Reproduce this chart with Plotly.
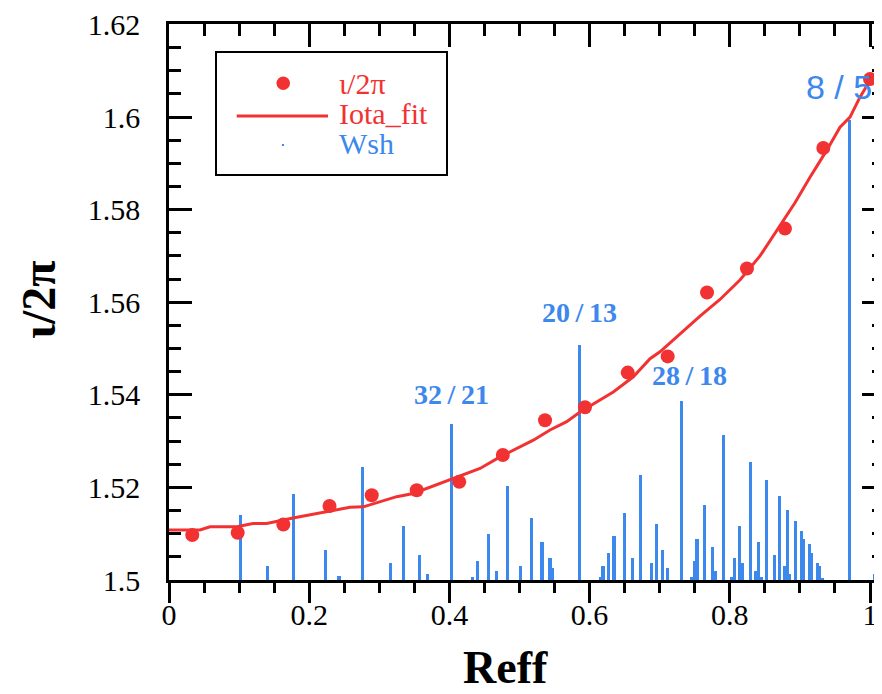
import plotly.graph_objects as go

# ---- data ----
iota_x = [0.0332, 0.0980, 0.1631, 0.2290, 0.2892, 0.3534, 0.4141, 0.4762, 0.5364,
          0.5934, 0.6544, 0.7114, 0.7675, 0.8245, 0.8787, 0.9334, 1.0000]
iota_y = [1.5097, 1.5102, 1.5120, 1.5160, 1.5183, 1.5194, 1.5212, 1.5270, 1.5345,
          1.5373, 1.5448, 1.5483, 1.5621, 1.5673, 1.5759, 1.5933, 1.6082]

fit_x = [0.0, 0.0442, 0.0585, 0.0966, 0.1198, 0.1394, 0.1769, 0.2154, 0.2582, 0.2772,
         0.3010, 0.3248, 0.3485, 0.3676, 0.3913, 0.4198, 0.4437, 0.4722, 0.5007, 0.5197,
         0.5435, 0.5673, 0.5863, 0.6148, 0.6338, 0.6624, 0.6862, 0.7004, 0.7290, 0.7575,
         0.7860, 0.8145, 0.8431, 0.8716, 0.8930, 0.9144, 0.9382, 0.9572, 0.9715, 0.9857,
         1.0000]
fit_y = [1.5108, 1.5108, 1.5115, 1.5115, 1.5122, 1.5122, 1.5134, 1.5145, 1.5157, 1.5158,
         1.5169, 1.5180, 1.5187, 1.5198, 1.5210, 1.5227, 1.5241, 1.5266, 1.5288, 1.5302,
         1.5324, 1.5342, 1.5363, 1.5388, 1.5406, 1.5439, 1.5478, 1.5493, 1.5532, 1.5570,
         1.5606, 1.5648, 1.5700, 1.5767, 1.5815, 1.5870, 1.5928, 1.5978, 1.6000, 1.6043,
         1.6079]

wsh_x = [0.1017, 0.1403, 0.1779, 0.2235, 0.2425, 0.2767, 0.3153, 0.3343, 0.3571, 0.3685,
         0.4028, 0.4327, 0.4403, 0.4560, 0.4675, 0.4826, 0.5017, 0.5169, 0.5321, 0.5435,
         0.5473, 0.5853, 0.6153, 0.6191, 0.6267, 0.6348, 0.6500, 0.6615, 0.6729, 0.6876,
         0.6952, 0.7033, 0.7108, 0.7304, 0.7456, 0.7494, 0.7532, 0.7646, 0.7760, 0.7799,
         0.7913, 0.8027, 0.8064, 0.8141, 0.8179, 0.8293, 0.8370, 0.8407, 0.8445, 0.8521,
         0.8635, 0.8712, 0.8787, 0.8826, 0.8849, 0.8940, 0.9016, 0.9054, 0.9130, 0.9168,
         0.9244, 0.9282, 0.9320, 0.9705, 1.0067, 1.0096]
wsh_y = [1.5140, 1.5031, 1.5186, 1.5065, 1.5009, 1.5244, 1.5036, 1.5116, 1.5054, 1.5013,
         1.5336, 1.5007, 1.5042, 1.5099, 1.5019, 1.5203, 1.5030, 1.5134, 1.5082, 1.5047,
         1.5025, 1.5508, 1.5007, 1.5030, 1.5059, 1.5094, 1.5145, 1.5047, 1.5227, 1.5036,
         1.5122, 1.5065, 1.5025, 1.5387, 1.5007, 1.5042, 1.5088, 1.5163, 1.5071, 1.5019,
         1.5313, 1.5007, 1.5047, 1.5116, 1.5036, 1.5255, 1.5019, 1.5082, 1.5007, 1.5216,
         1.5053, 1.5181, 1.5030, 1.5151, 1.5013, 1.5128, 1.5105, 1.5088, 1.5077, 1.5059,
         1.5036, 1.5030, 1.5004, 1.5994, 1.5013, 1.5009]
wsh_base = 1.5

res_labels = ["8 / 5", "20\u2009/\u200913", "32\u2009/\u200921", "28\u2009/\u200918"]
res_x = [0.956, 0.5853, 0.4037, 0.743]
res_y = [1.6064, 1.5578, 1.5401, 1.5442]

RED = "#f23232"
BLUE = "#3c88ec"
SERIF = "Liberation Serif"

fig = go.Figure()
fig.add_trace(go.Bar(x=wsh_x, y=[v - wsh_base for v in wsh_y], base=wsh_base,
                     width=0.0043, marker=dict(color=BLUE, line=dict(width=0)),
                     name="Wsh", showlegend=False))
fig.add_trace(go.Scatter(x=fit_x, y=fit_y, mode="lines", line=dict(color=RED, width=3),
                         name="Iota_fit", showlegend=False))
fig.add_trace(go.Scatter(x=iota_x, y=iota_y, mode="markers",
                         marker=dict(color=RED, size=14), name="\u03b9/2\u03c0",
                         showlegend=False, cliponaxis=False))
# dummy trace to activate mirror axes
fig.add_trace(go.Scatter(x=[], y=[], xaxis="x2", yaxis="y2", showlegend=False))

# screen pixels of plot area (page body has an 8px margin)
BODY = 8
x0, x1 = 169, 882
y0, y1 = 24, 580
ppu = 701.0
xmax = (x1 - x0) / ppu
LW = 2.5

fig.update_layout(
    width=882 - BODY, height=694 - BODY,
    margin=dict(l=x0 - BODY, r=0, t=y0 - BODY, b=694 - y1),
    plot_bgcolor="white", paper_bgcolor="white",
    bargap=0,
    xaxis=dict(range=[0, xmax], showgrid=False, zeroline=False, showline=True,
               linecolor="black", linewidth=LW, ticks="outside", ticklen=20,
               tickwidth=LW, tickcolor="black", tick0=0, dtick=0.2,
               minor=dict(ticks="outside", ticklen=10, tickwidth=LW, dtick=0.05,
                          tickcolor="black", showgrid=False),
               ticklabelstandoff=-14, ticklabeloverflow="allow",
               tickfont=dict(family=SERIF, size=30, color="black")),
    xaxis2=dict(range=[0, xmax], overlaying="x", side="top", showgrid=False,
                zeroline=False, showline=True, linecolor="black", linewidth=LW,
                ticks="inside", ticklen=23, tickwidth=LW, tickcolor="black",
                tick0=0, dtick=0.2, showticklabels=False,
                minor=dict(ticks="inside", ticklen=12, tickwidth=LW, dtick=0.05,
                           tickcolor="black", showgrid=False)),
    yaxis=dict(range=[1.5, 1.6201], showgrid=False, zeroline=False, showline=True,
               linecolor="black", linewidth=LW, ticks="inside", ticklen=23,
               tickwidth=LW, tickcolor="black", tick0=1.5, dtick=0.02,
               minor=dict(ticks="inside", ticklen=12, tickwidth=LW, dtick=0.005,
                          tickcolor="black", showgrid=False),
               ticklabelstandoff=20, ticklabeloverflow="allow",
               tickfont=dict(family=SERIF, size=30, color="black")),
    yaxis2=dict(range=[1.5, 1.6201], overlaying="y", side="right", showgrid=False,
                zeroline=False, showline=False, ticks="inside", ticklen=20,
                tickwidth=LW, tickcolor="black", tick0=1.5, dtick=0.02,
                showticklabels=False,
                minor=dict(ticks="inside", ticklen=10, tickwidth=LW, dtick=0.005,
                           tickcolor="black", showgrid=False)),
)

W = x1 - x0
H = y1 - y0


def px(xp):
    return (xp - x0) / W


def py(yp):
    return (y1 - yp) / H


# legend (manual)
fig.add_shape(type="rect", xref="paper", yref="paper", x0=px(216), x1=px(447),
              y0=py(175), y1=py(52), line=dict(color="black", width=2),
              fillcolor="white", layer="above")
fig.add_shape(type="circle", xref="paper", yref="paper", x0=px(276.5), x1=px(290),
              y0=py(90), y1=py(76.5), line=dict(width=0), fillcolor=RED, layer="above")
fig.add_shape(type="line", xref="paper", yref="paper", x0=px(236.7), x1=px(328),
              y0=py(116), y1=py(116), line=dict(color=RED, width=3), layer="above")
fig.add_shape(type="rect", xref="paper", yref="paper", x0=px(282), x1=px(284),
              y0=py(146), y1=py(144), line=dict(width=0), fillcolor=BLUE, layer="above")
for txt, yp, col in [("\u03b9/2\u03c0", 83, RED), ("Iota_fit", 113, RED), ("Wsh", 143, BLUE)]:
    fig.add_annotation(xref="paper", yref="paper", x=px(337), y=py(yp), text=txt,
                       showarrow=False, xanchor="left", yanchor="middle",
                       font=dict(family=SERIF, size=30, color=col))

# resonance labels
for i, (lab, xv, yv) in enumerate(zip(res_labels, res_x, res_y)):
    if i == 0:
        f = dict(family="Liberation Sans", size=34, color=BLUE)
    else:
        f = dict(family=SERIF, size=28, color=BLUE, weight="bold")
    fig.add_annotation(x=xv, y=yv, text=lab, showarrow=False, font=f,
                       xanchor="center", yanchor="middle")

# axis titles
fig.add_annotation(xref="paper", yref="paper", x=px(505), y=py(667), text="<b>Reff</b>",
                   showarrow=False, font=dict(family=SERIF, size=46, color="black"),
                   xanchor="center", yanchor="middle")
fig.add_annotation(xref="paper", yref="paper", x=px(38), y=py(300),
                   text="<b>\u03b9/2\u03c0</b>", textangle=-90,
                   showarrow=False, font=dict(family=SERIF, size=48, color="black"),
                   xanchor="center", yanchor="middle")

fig.write_html("out.html")
